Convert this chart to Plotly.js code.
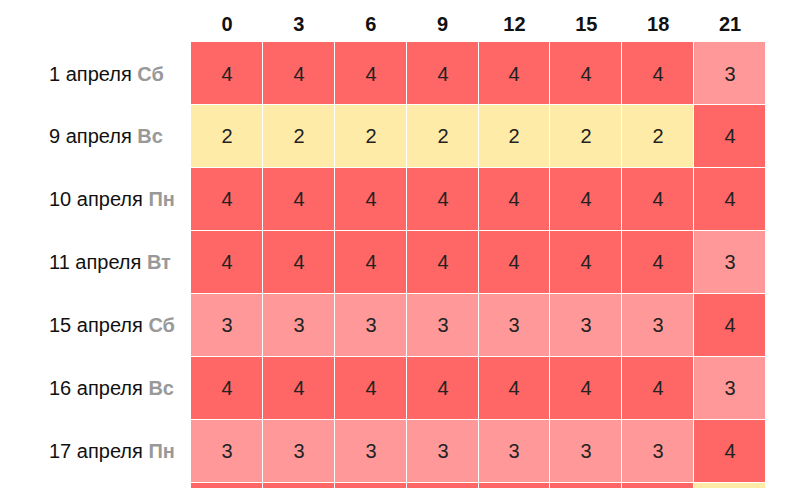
<!DOCTYPE html>
<html>
<head>
<meta charset="utf-8">
<script src="https://cdn.plot.ly/plotly-3.0.1.min.js"></script>
<style>
  html, body { margin: 0; padding: 0; background: #fff; }
  #chart { width: 802px; height: 488px; }
</style>
</head>
<body>
<div id="chart"></div>
<script>
// Hours (columns)
const hours = ["0", "3", "6", "9", "12", "15", "18", "21"];

// Days (rows) and weekday names
const days = ["1 апреля", "9 апреля", "10 апреля", "11 апреля", "15 апреля", "16 апреля", "17 апреля", "18 апреля"];
const weekdays = ["Сб", "Вс", "Пн", "Вт", "Сб", "Вс", "Пн", "Вт"];

// Index values per day
const row1 = [4, 4, 4, 4, 4, 4, 4, 3];
const row2 = [2, 2, 2, 2, 2, 2, 2, 4];
const row3 = [4, 4, 4, 4, 4, 4, 4, 4];
const row4 = [4, 4, 4, 4, 4, 4, 4, 3];
const row5 = [3, 3, 3, 3, 3, 3, 3, 4];
const row6 = [4, 4, 4, 4, 4, 4, 4, 3];
const row7 = [3, 3, 3, 3, 3, 3, 3, 4];
const row8 = [4, 4, 4, 4, 4, 4, 4, 2];

const values = [row1, row2, row3, row4, row5, row6, row7, row8];

const FONT = "Liberation Sans, Arial, sans-serif";

// row labels: date in black, weekday bold grey, left aligned
const rowLabels = days.map((d, i) =>
    d + ' <b><span style="color:#999999">' + weekdays[i] + '</span></b>');

const trace = {
    type: "heatmap",
    x: hours,
    y: days,
    z: values,
    zmin: 2,
    zmax: 4,
    colorscale: [[0, "#ffeba8"], [0.5, "#ff9999"], [1, "#ff6666"]],
    showscale: false,
    xgap: 1,
    ygap: 1,
    texttemplate: "%{z}",
    textfont: { family: FONT, size: 20, color: "#222222" },
    hoverinfo: "skip"
};

const annotations = days.map((d, i) => ({
    xref: "paper",
    yref: "y",
    x: 0,
    xshift: -144,
    y: d,
    xanchor: "left",
    yanchor: "middle",
    text: rowLabels[i],
    showarrow: false,
    font: { family: FONT, size: 20, color: "#111111" }
}));

const layout = {
    width: 802,
    height: 488,
    margin: { l: 191, r: 36, t: 42, b: 0 },
    paper_bgcolor: "#ffffff",
    plot_bgcolor: "#ffffff",
    font: { family: FONT, size: 19, color: "#111111" },
    xaxis: {
        side: "top",
        type: "category",
        showgrid: false,
        zeroline: false,
        ticks: "",
        ticklabelstandoff: 6,
        tickfont: { size: 20, color: "#111111", weight: "bold" }
    },
    yaxis: {
        type: "category",
        range: [6.58, -0.5],
        showgrid: false,
        zeroline: false,
        ticks: "",
        showticklabels: false
    },
    annotations: annotations
};

Plotly.newPlot("chart", [trace], layout, { displayModeBar: false, staticPlot: true });
</script>
</body>
</html>
